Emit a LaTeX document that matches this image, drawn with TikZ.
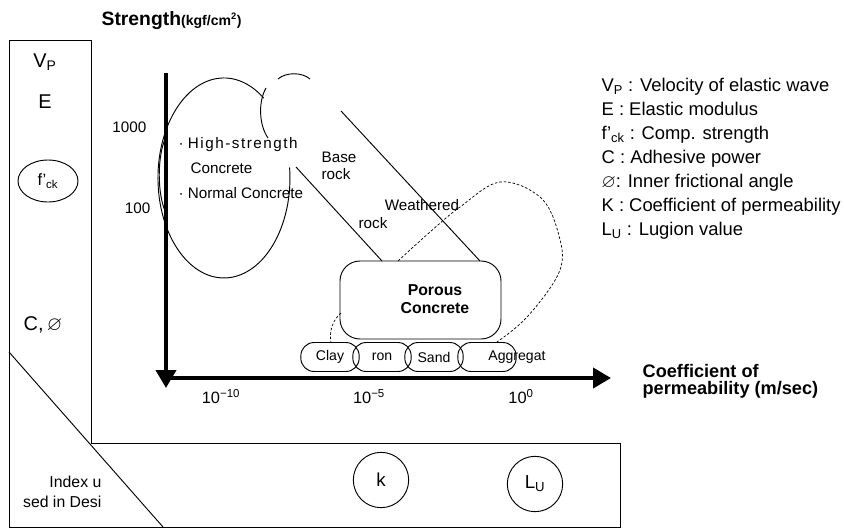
\documentclass[tikz,border=0pt]{standalone}
\usepackage{amssymb}
\usepackage{fontspec}
\setmainfont{Liberation Sans}
\usetikzlibrary{arrows.meta,shapes.geometric,positioning}

\begin{document}
\begin{tikzpicture}
  [x=0.03cm,y=-0.03cm,line width=0.8pt,
   every node/.style={inner sep=1pt},
   lbl/.style={font=\fontsize{13}{14.5}\selectfont},
   sym/.style={font=\fontsize{17}{19}\selectfont},
   leg/.style={font=\fontsize{15.7}{19}\selectfont,anchor=base west},
   hd/.style={font=\fontsize{15.5}{14.5}\selectfont\bfseries},
   axis/.style={line width=3.4pt,-{Triangle[length=0.54cm,width=0.6cm]}},
   soil/.style={draw,rounded corners=0.4cm,minimum width=1.75cm,minimum height=0.87cm,
                font=\fontsize{12}{13}\selectfont},
   ring/.style={draw,circle,minimum size=1.66cm,font=\fontsize{16}{18}\selectfont},
   link/.style={dash pattern=on 2.2pt off 1.6pt,line width=0.6pt}]

  \path[use as bounding box] (0,0) rectangle (844,529);

  % title of the strength axis
  \node[anchor=base west,font=\fontsize{16.5}{19}\selectfont\bfseries] (title) at (100,25)
    {Strength{\fontsize{12}{14}\selectfont(kgf/cm\textsuperscript{2})}};

  % frame of the design indices
  \draw (9,40) -- (91,40) -- (91,443) -- (620,443) -- (620,527) -- (9,527) -- cycle;
  \draw (9,352) -- (163,527);

  \node[sym] (vp) at (45,62) {V\textsubscript{P}};
  \node[sym] (e) at (45,102) {E};
  \node[draw,ellipse,minimum width=1.8cm,minimum height=1.26cm,
        font=\fontsize{14}{16}\selectfont] (fck) at (48,181) {f’\textsubscript{ck}};
  \node[sym] (cphi) at (43,325) {C,\,$\varnothing$};
  \node[anchor=east,align=right,font=\fontsize{13.5}{17}\selectfont] (index) at (103,492)
    {Index u\\sed in Desi};
  \node[ring] (k) at (381,480) {k};
  \node[ring] (lu) at (535,484) {L\textsubscript{U}};

  % concrete zones
  \draw (289.6,167.5) arc[start angle=-6,end angle=307,x radius=66,y radius=100];
  \draw (166,137) .. controls (157,155) and (157,195) .. (166,213);
  \draw (266,88) .. controls (258,102) and (259,125) .. (268,138);
  \draw (278,79) .. controls (286,72) and (302,72) .. (310,79);

  \node[lbl,anchor=west] (hs) at (177,145)
    {· \addfontfeature{LetterSpace=10}High-strength};
  \node[lbl,anchor=west] (hs2) at (189,168) {Concrete};
  \node[lbl,anchor=west] (nc) at (177,193) {· Normal Concrete};

  % axes
  \coordinate (ytop) at (166,73);
  \coordinate (ybot) at (166,388);
  \coordinate (xl) at (164,378);
  \coordinate (xr) at (611,378);
  \draw[axis] (ytop) -- (ybot);
  \draw[axis] (xl) -- (xr);

  \node[lbl,anchor=east] (s1000) at (148,127) {1000};
  \node[lbl,anchor=east] (s100) at (152,208) {100};
  \node[lbl,font=\fontsize{14}{16}\selectfont] (p10) at (221,397) {10\textsuperscript{−10}};
  \node[lbl,font=\fontsize{14}{16}\selectfont] (p5) at (369,397) {10\textsuperscript{−5}};
  \node[lbl,font=\fontsize{14}{16}\selectfont] (p0) at (521,397) {10\textsuperscript{0}};
  \node[hd,anchor=west,align=left] (xlab) at (641,381) {Coefficient of\\permeability (m/sec)};

  % porous concrete and soils
  \node[draw,rounded corners=0.6cm,minimum width=4.83cm,minimum height=2.34cm] (porous) at (420.5,300) {};
  \node[align=center,font=\fontsize{13.5}{15.4}\selectfont\bfseries] (portxt) at (435,299)
    {Porous\\Concrete};

  \node[soil] (clay) at (330,357) {Clay};
  \node[soil] (ron) at (382,357) {ron};
  \node[soil] (sand) at (434,357) {Sand};
  \node[soil] (aggr) at (487,357) {};
  \node[font=\fontsize{12}{13}\selectfont] (aggrtxt) at (517,357) {Aggregat};

  % rock zones
  \node[lbl,anchor=west,align=left] (base) at (320,166) {Base\\rock};
  \node[lbl] (rock) at (373,223) {rock};
  \node[lbl] (weath) at (422,205) {Weathered};

  \coordinate (r1) at (296,167);
  \coordinate (t1) at (382,261);
  \coordinate (r2) at (341,111);
  \coordinate (t2) at (480,261);
  \foreach \from/\to in {r1/t1,r2/t2}
    \draw (\from) -- (\to);

  \coordinate (d0) at (398,261);
  \coordinate (d1) at (497,342);
  \draw[link] plot[smooth,tension=0.6] coordinates
    {(d0) (430,232) (460,207) (500,182) (540,197) (558,232) (560,270) (528,316) (d1)};
  \coordinate (dl) at (341,313);
  \coordinate (dc) at (331,343);
  \draw[link] (dl) .. controls (333,320) and (329,330) .. (dc);

  % legend
  \foreach \txt [count=\i] in {{V\textsubscript{P} : Velocity of elastic wave},
      {E : Elastic modulus},{f’\textsubscript{ck} : Comp. strength},{C : Adhesive power},
      {$\varnothing$: Inner frictional angle},{K : Coefficient of permeability},
      {L\textsubscript{U} : Lugion value}}
    \node[leg] (leg\i) at (600,67+24*\i) {\txt};

\end{tikzpicture}
\end{document}
